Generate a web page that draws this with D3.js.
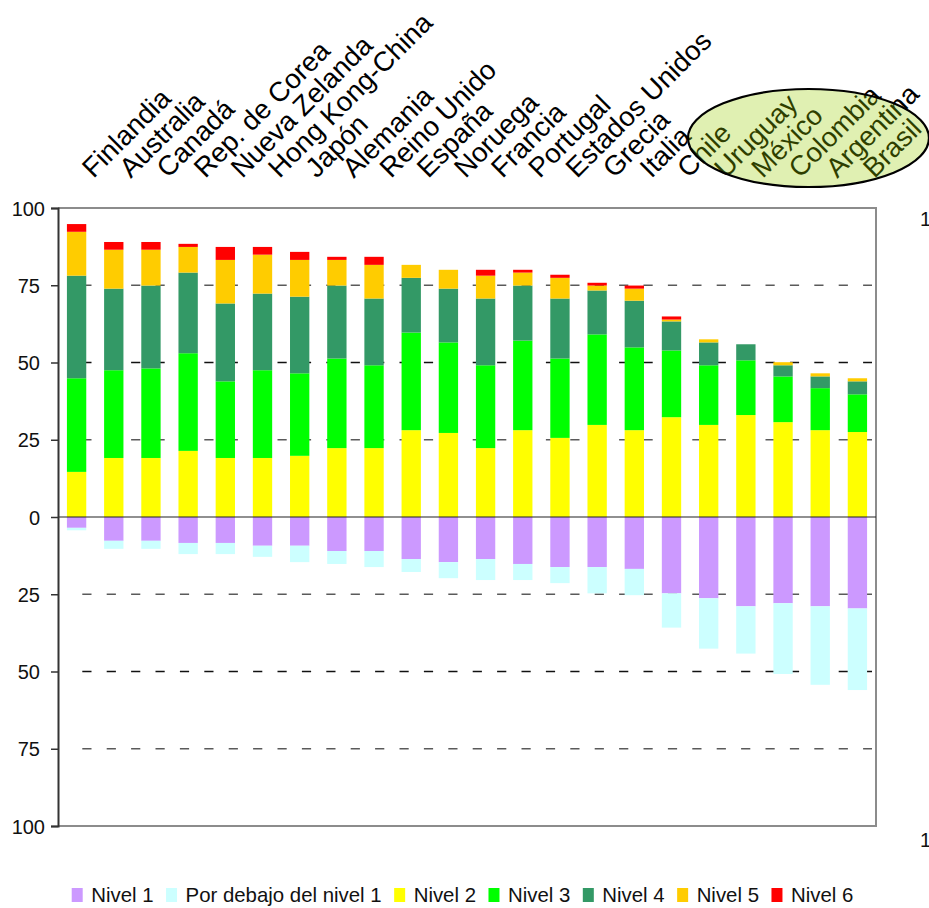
<!DOCTYPE html>
<html>
<head>
<meta charset="utf-8">
<script src="https://cdn.jsdelivr.net/npm/d3@7"></script>
<style>
  html, body { margin: 0; padding: 0; background: #fff; }
  svg { display: block; font-family: "Liberation Sans", Arial, sans-serif; }
</style>
</head>
<body>
<svg id="chart" width="929" height="908"></svg>
<script>
// Countries, ordered by share of students at Nivel 2 and above
const countries = ["Finlandia", "Australia", "Canadá", "Rep. de Corea", "Nueva Zelanda",
  "Hong Kong-China", "Japón", "Alemania", "Reino Unido", "España", "Noruega", "Francia",
  "Portugal", "Estados Unidos", "Grecia", "Italia", "Chile", "Uruguay", "México",
  "Colombia", "Argentina", "Brasil"];

// Highlighted group (circled in the header)
const highlighted = ["Chile", "Uruguay", "México", "Colombia", "Argentina", "Brasil"];

// Percentages of students per proficiency level
const nivel1 = [3.5, 7.7, 7.7, 8.4, 8.4, 9.3, 9.3, 11.0, 11.0, 13.6, 14.6, 13.6,
  15.2, 16.2, 16.2, 16.8, 24.7, 26.3, 28.9, 27.9, 28.9, 29.6];
const bajo1 = [0.8, 2.6, 2.6, 3.6, 3.6, 3.6, 5.3, 4.2, 5.2, 4.2, 5.2, 6.8,
  5.2, 5.2, 8.5, 8.5, 11.1, 16.3, 15.3, 22.9, 25.4, 26.4];
const nivel2 = [14.6, 19.1, 19.1, 21.4, 19.1, 19.1, 19.8, 22.3, 22.3, 28.1, 27.2, 22.3,
  28.1, 25.6, 29.8, 28.1, 32.3, 29.8, 33.0, 30.7, 28.1, 27.5];
const nivel3 = [30.3, 28.4, 29.0, 31.6, 24.8, 28.4, 26.7, 29.0, 26.8, 31.6, 29.3, 26.8,
  29.0, 25.7, 29.3, 26.8, 21.6, 19.3, 17.7, 14.8, 13.6, 12.2];
const nivel4 = [33.2, 26.4, 26.8, 26.1, 25.2, 24.8, 24.8, 23.6, 21.6, 17.7, 17.4, 21.6,
  17.8, 19.4, 14.2, 15.1, 9.4, 7.4, 5.2, 3.6, 3.8, 4.2];
const nivel5 = [14.2, 12.6, 11.6, 8.3, 14.1, 12.6, 11.9, 8.3, 10.9, 4.2, 6.1, 7.4,
  4.2, 6.7, 1.6, 3.9, 0.6, 1.0, 0, 1.0, 1.0, 1.0];
const nivel6 = [2.5, 2.5, 2.5, 1.0, 4.2, 2.5, 2.6, 1.0, 2.6, 0, 0, 1.9,
  0.9, 1.0, 0.9, 1.0, 1.0, 0, 0, 0, 0, 0];

// Axis ticks (shown as absolute percentages on both sides of zero)
const yTicks = [-100, -75, -50, -25, 0, 25, 50, 75, 100];

// Series: name, values, direction (below zero = -1), colour
const seriesKeys = ["nivel1", "bajo1", "nivel2", "nivel3", "nivel4", "nivel5", "nivel6"];
const seriesNames = ["Nivel 1", "Por debajo del nivel 1", "Nivel 2", "Nivel 3", "Nivel 4", "Nivel 5", "Nivel 6"];
const seriesValues = [nivel1, bajo1, nivel2, nivel3, nivel4, nivel5, nivel6];
const seriesSign = [-1, -1, 1, 1, 1, 1, 1];
const seriesColors = ["#cc99ff", "#ccffff", "#ffff00", "#00ff00", "#339966", "#ffcc00", "#ff0000"];

const rows = countries.map((c, i) => {
  const r = { country: c };
  seriesKeys.forEach((k, j) => { r[k] = seriesSign[j] * seriesValues[j][i]; });
  return r;
});

const svg = d3.select("#chart");
const plot = { left: 58, right: 876, top: 208, bottom: 826 };

const x = d3.scaleBand()
  .domain(countries)
  .range([plot.left, plot.right])
  .paddingInner(0.48)
  .paddingOuter(0.24);

const y = d3.scaleLinear()
  .domain([-100, 100])
  .range([plot.bottom, plot.top]);

const color = d3.scaleOrdinal().domain(seriesKeys).range(seriesColors);

// Dashed gridlines
const gridStart = plot.left + 24.3, gridEnd = plot.right - 4;
svg.append("g")
  .selectAll("line")
  .data(yTicks.filter(d => d !== 0 && Math.abs(d) !== 100))
  .join("line")
  .attr("x1", gridStart).attr("x2", gridEnd)
  .attr("y1", d => y(d)).attr("y2", d => y(d))
  .attr("stroke", d => Math.abs(d) === 50 ? "#111" : "#5a5a5a")
  .attr("stroke-width", 1.5)
  .attr("stroke-dasharray", "9.2 15.2");

// Plot frame (top, right, bottom)
svg.append("path")
  .attr("d", `M${plot.left},${plot.top}H${plot.right}V${plot.bottom}H${plot.left}`)
  .attr("fill", "none")
  .attr("stroke", "#8c8c8c")
  .attr("stroke-width", 2);

// Stacked bars
const stack = d3.stack().keys(seriesKeys).offset(d3.stackOffsetDiverging);
const layers = stack(rows);

svg.append("g")
  .selectAll("g")
  .data(layers)
  .join("g")
  .attr("fill", d => color(d.key))
  .selectAll("rect")
  .data(d => d.filter(s => s[1] - s[0] !== 0))
  .join("rect")
  .attr("x", d => x(d.data.country))
  .attr("width", x.bandwidth())
  .attr("y", d => y(Math.max(d[0], d[1])))
  .attr("height", d => Math.abs(y(d[0]) - y(d[1])));

// Zero line
svg.append("line")
  .attr("x1", plot.left).attr("x2", plot.right)
  .attr("y1", y(0)).attr("y2", y(0))
  .attr("stroke", "#222")
  .attr("stroke-width", 1.2);

// Left axis
const yAxis = d3.axisLeft(y)
  .tickValues(yTicks)
  .tickSize(7)
  .tickPadding(0)
  .tickFormat(d => Math.abs(d));

const axisG = svg.append("g")
  .attr("transform", `translate(${plot.left},0)`)
  .call(yAxis);
axisG.select(".domain").attr("stroke", "#333").attr("stroke-width", 2);
axisG.selectAll(".tick line").attr("stroke", "#333").attr("stroke-width", 1.5);
axisG.selectAll(".tick text")
  .attr("font-size", 20)
  .attr("fill", "#111")
  .attr("font-family", "'Liberation Sans', Arial, sans-serif")
  .attr("x", d => Math.abs(d) === 100 ? -13 : -18)
  .attr("dy", "0.35em");

// Secondary axis labels at the right edge
svg.append("g")
  .selectAll("text")
  .data([100, -100])
  .join("text")
  .attr("x", 920)
  .attr("y", d => d > 0 ? y(d) + 10.5 : y(d) + 14)
  .attr("dy", "0.35em")
  .attr("font-size", 20)
  .attr("fill", "#111")
  .text(d => Math.abs(d));

// Country labels, rotated
svg.append("g")
  .selectAll("text")
  .data(countries)
  .join("text")
  .attr("transform", d => `translate(${x(d) + x.bandwidth() / 2 + 17},179) rotate(-45)`)
  .attr("font-size", 27.5)
  .attr("fill", "#000")
  .text(d => d);

// Highlight ellipse drawn over the last group of labels
const hFirst = x(highlighted[0]), hLast = x(highlighted[highlighted.length - 1]) + x.bandwidth();
svg.append("ellipse")
  .attr("cx", (hFirst + hLast) / 2 + 44)
  .attr("cy", 138)
  .attr("rx", 120.5)
  .attr("ry", 49)
  .attr("fill", "#99cc00")
  .attr("fill-opacity", 0.3)
  .attr("stroke", "#000")
  .attr("stroke-width", 2.2);

// Legend
const legend = svg.append("g");
const items = legend.selectAll("g")
  .data(seriesKeys.map((k, i) => ({ key: k, name: seriesNames[i] })))
  .join("g");
items.append("rect")
  .attr("width", 11).attr("height", 14)
  .attr("y", 888)
  .attr("fill", d => color(d.key));
items.append("text")
  .attr("x", 19.5)
  .attr("y", 902)
  .attr("font-size", 20.4)
  .attr("fill", "#111")
  .text(d => d.name);

let cursor = 0;
const offsets = [];
items.each(function () {
  offsets.push(cursor);
  const w = d3.select(this).select("text").node().getComputedTextLength();
  cursor += 19.5 + w + 12.5;
});
const totalW = cursor - 12.5;
const legendStart = 462.5 - totalW / 2;
items.attr("transform", (d, i) => `translate(${legendStart + offsets[i]},0)`);
</script>
</body>
</html>
